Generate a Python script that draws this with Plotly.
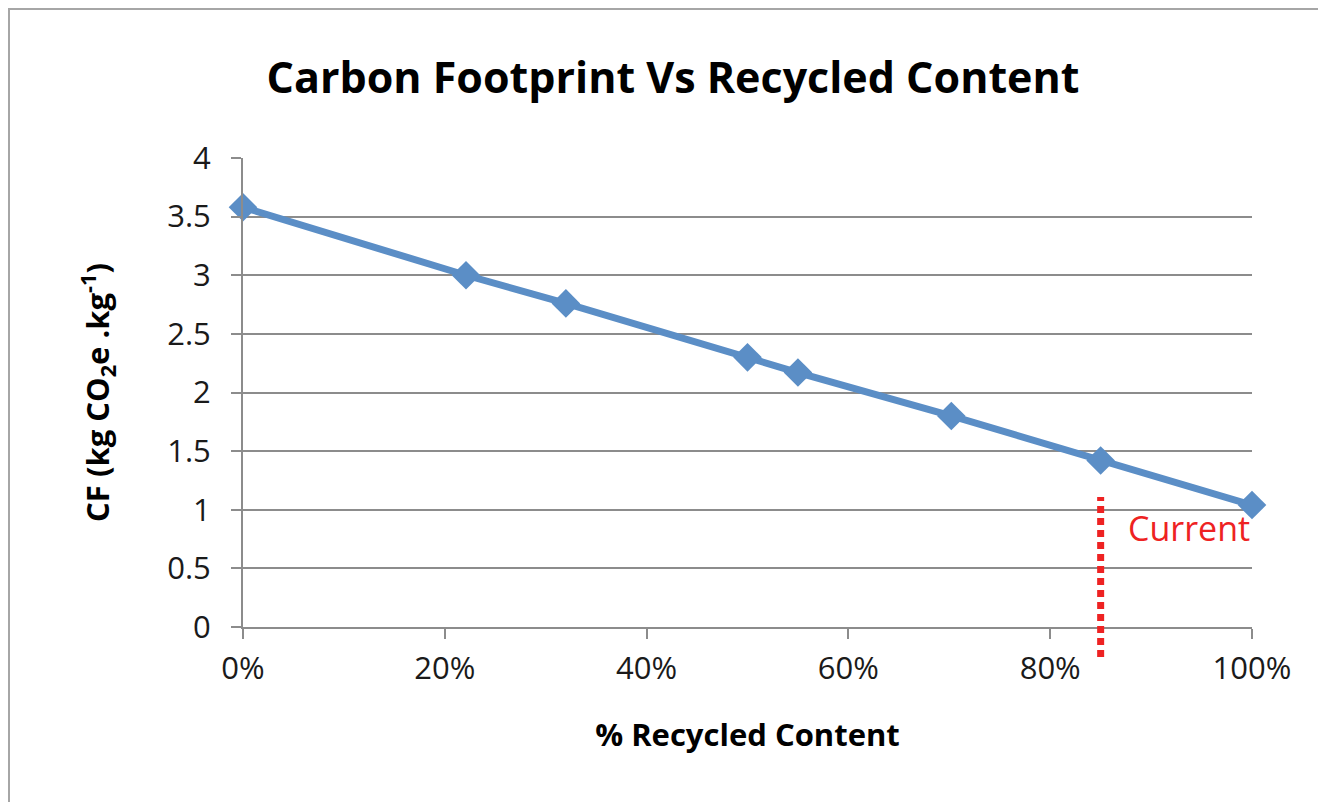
import plotly.graph_objects as go

recycled = [0.0, 0.221, 0.32, 0.50, 0.55, 0.702, 0.85, 1.0]
cf = [3.58, 3.00, 2.76, 2.30, 2.17, 1.80, 1.42, 1.04]
current_x = 0.85
current_label = "Current"
y_ticks = [0, 0.5, 1, 1.5, 2, 2.5, 3, 3.5, 4]
y_tick_text = ["0", "0.5", "1", "1.5", "2", "2.5", "3", "3.5", "4"]
x_ticks = [0, 0.2, 0.4, 0.6, 0.8, 1.0]
x_tick_text = ["0%", "20%", "40%", "60%", "80%", "100%"]

FONT = "Open Sans"
blue = "#5B8EC6"
grid = "#8C8C8C"

# page adds 8px body offset; plot area target: x 243..1252, y 158..627
OFF = 8
L, T, PW, PH = 243 - OFF, 158 - OFF, 1009, 469

fig = go.Figure()
fig.add_trace(go.Scatter(
    x=recycled, y=cf, mode="lines+markers",
    line=dict(color=blue, width=7),
    marker=dict(symbol="diamond", size=22, color=blue),
    cliponaxis=False, showlegend=False,
))

fig.update_layout(
    width=1326, height=802,
    paper_bgcolor="white", plot_bgcolor="white",
    margin=dict(l=L, r=1326 - L - PW, t=T, b=802 - T - PH),
    font=dict(family=FONT, color="#1a1a1a", size=28),
    title=dict(text="<b>Carbon Footprint Vs Recycled Content</b>",
               x=(673 - OFF) / 1326, xanchor="center", y=1 - (78 - OFF) / 802, yanchor="middle",
               font=dict(size=43, color="black", family=FONT)),
    xaxis=dict(range=[0, 1], tickvals=x_ticks, ticktext=x_tick_text,
               showgrid=False, zeroline=False,
               showline=True, linecolor=grid, linewidth=2,
               ticks="outside", ticklen=10, tickwidth=2, tickcolor=grid,
               tickfont=dict(size=31), ticklabelstandoff=3,
               title=dict(text="<b>% Recycled Content</b>", font=dict(size=31, color="black"),
                          standoff=37)),
    yaxis=dict(range=[0, 4], tickvals=y_ticks, ticktext=y_tick_text,
               showgrid=True, gridcolor=grid, gridwidth=2, zeroline=False,
               showline=True, linecolor=grid, linewidth=2,
               ticks="outside", ticklen=10, tickwidth=2, tickcolor=grid,
               tickfont=dict(size=31), ticklabelstandoff=14,
               title=dict(text="<b>CF (kg CO<sub>2</sub>e .kg<sup>-1</sup>)</b>",
                          font=dict(size=31, color="black"), standoff=48)),
)

# outer chart border
fig.add_shape(type="rect", xref="paper", yref="paper",
              x0=(9 - 243) / PW, x1=1.2, y0=-0.6, y1=(627 - 9) / PH,
              line=dict(color="#A6A6A6", width=2), fillcolor="rgba(0,0,0,0)", layer="below")

# current marker line
fig.add_shape(type="line", xref="x", yref="paper",
              x0=current_x, x1=current_x, y0=(627 - 657) / PH, y1=(627 - 497) / PH,
              line=dict(color="#EE2222", width=7, dash="7px,5px"))
fig.add_annotation(x=current_x + 0.0875, y=0.845, xref="x", yref="y",
                   text=current_label, showarrow=False,
                   font=dict(size=34, color="#EE2222", family=FONT))

fig.write_html("out.html")
